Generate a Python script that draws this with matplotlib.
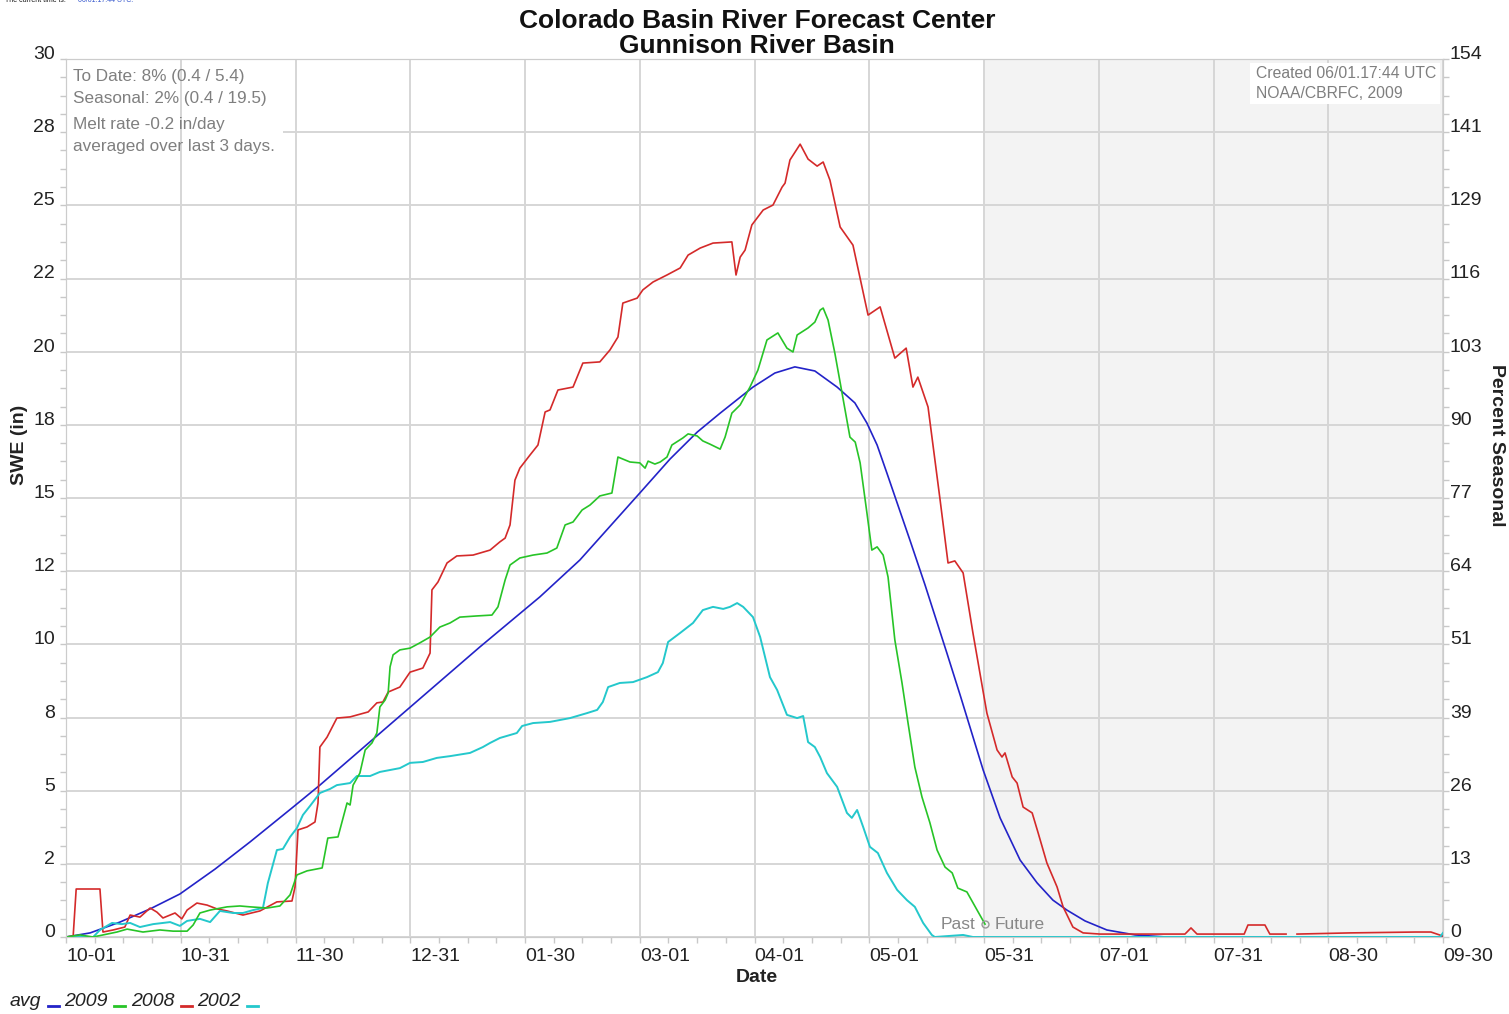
import numpy as np
import matplotlib
matplotlib.use('Agg')
import matplotlib.pyplot as plt
from matplotlib.lines import Line2D
from matplotlib.patches import Rectangle
from matplotlib.transforms import ScaledTranslation

plt.rcParams['font.family'] = ['Liberation Sans', 'DejaVu Sans']

# day of water year (0 = 10-01) and SWE in inches
avg_day = [0.0, 6.4, 14.3, 22.3, 30.2, 39.5, 48.8, 60.2, 67.3, 88.5, 109.7, 125.6, 136.2, 152.1,
           160.1, 167.3, 173.4, 182.1, 187.9, 193.2, 198.5, 204.4, 209.1, 212.3, 215.0, 217.6,
           220.5, 223.7, 227.7, 233.5, 237.0, 243.1, 247.6, 252.9, 257.4, 261.6, 265.3, 270.1,
           275.9, 283.4, 291.6, 365.0]
avg_swe = [0.00, 0.14, 0.51, 0.96, 1.47, 2.32, 3.25, 4.44, 5.19, 7.55, 9.91, 11.62, 12.88, 15.17,
           16.33, 17.25, 17.90, 18.79, 19.27, 19.48, 19.34, 18.79, 18.25, 17.56, 16.81, 15.85,
           14.76, 13.56, 12.03, 9.70, 8.27, 5.71, 4.07, 2.63, 1.85, 1.26, 0.92, 0.55,
           0.24, 0.07, 0.0, 0.0]

# 2009 (current year, ends today)
wy2009_day = [0.0, 3.7, 7.2, 9.8, 13.5, 16.2, 20.4, 24.9, 28.4, 32.1, 33.7, 35.5, 38.2, 42.7, 46.1,
              48.8, 53.3, 56.7, 59.4, 61.2, 63.9, 67.9, 69.4, 72.1, 74.5, 75.3, 76.1, 77.9, 79.3,
              81.1, 82.4, 83.2, 84.6, 85.4, 85.9, 86.7, 88.5, 91.2, 93.8, 96.5, 99.1, 101.8, 104.4,
              108.9, 112.9, 114.5, 116.4, 117.7, 120.3, 123.8, 127.5, 130.1, 132.3, 134.4, 136.8,
              138.9, 141.5, 144.7, 146.3, 149.5, 152.1, 153.5, 154.3, 156.1, 157.5, 159.3, 160.6,
              163.5, 164.9, 167.3, 168.8, 170.7, 173.4, 174.7, 176.5, 178.7, 181.3, 183.4, 185.8,
              188.7, 191.1, 192.7, 193.8, 196.7, 198.5, 199.9, 200.7, 202.0, 203.8, 205.7, 207.8,
              209.2, 210.5, 212.3, 213.6, 215.0, 216.6, 217.9, 219.7, 221.6, 223.2, 225.0, 226.9,
              229.0, 230.9, 233.0, 234.9, 236.4, 238.8, 241.5, 243.6]
wy2009_swe = [0.00, 0.07, 0.00, 0.07, 0.17, 0.27, 0.17, 0.24, 0.20, 0.20, 0.41, 0.82, 0.92, 1.03, 1.06,
              1.03, 0.99, 1.06, 1.44, 2.12, 2.26, 2.36, 3.38, 3.42, 4.58, 4.51, 5.19, 5.60, 6.39,
              6.63, 6.97, 7.86, 8.10, 8.34, 9.23, 9.64, 9.81, 9.87, 10.05, 10.25, 10.59, 10.73, 10.93,
              10.97, 11.00, 11.28, 12.20, 12.71, 12.95, 13.05, 13.12, 13.29, 14.08, 14.18, 14.59,
              14.76, 15.07, 15.17, 16.40, 16.23, 16.20, 16.02, 16.26, 16.16, 16.23, 16.40, 16.81,
              17.05, 17.19, 17.12, 16.95, 16.84, 16.67, 17.08, 17.90, 18.18, 18.79, 19.37, 20.40,
              20.64, 20.12, 19.99, 20.57, 20.81, 21.01, 21.42, 21.49, 21.08, 19.95, 18.59, 17.08,
              16.91, 16.20, 14.49, 13.22, 13.33, 13.05, 12.30, 10.15, 8.68, 7.31, 5.81, 4.78,
              3.90, 2.97, 2.39, 2.19, 1.67, 1.54, 0.92, 0.44]

# 2008
wy2008_day = [0.0, 1.9, 2.7, 9.0, 9.8, 12.5, 15.6, 17.0, 19.6, 22.3, 24.1, 25.7, 28.9, 30.7, 32.1,
              34.7, 37.4, 40.0, 42.7, 46.9, 51.4, 55.9, 59.9, 60.7, 61.5, 63.9, 66.0, 66.8, 67.3,
              69.2, 71.8, 75.3, 80.1, 82.4, 84.0, 85.4, 88.5, 91.2, 94.6, 96.5, 97.0, 98.6, 101.0,
              103.6, 107.9, 112.4, 115.0, 116.4, 117.7, 119.0, 120.3, 123.0, 125.1, 127.0, 128.3,
              130.4, 134.4, 137.0, 141.5, 144.2, 146.3, 147.6, 151.4, 152.9, 155.6, 159.3, 162.8,
              164.9, 168.1, 171.5, 176.5, 177.6, 178.7, 180.0, 181.8, 184.8, 187.4, 189.8, 190.6,
              191.9, 194.6, 196.7, 199.1, 200.7, 202.5, 205.2, 208.6, 212.6, 215.8, 219.7, 222.7,
              224.5, 225.8, 228.5, 231.7, 233.8, 235.6, 237.8, 240.4, 244.1, 246.8, 248.1, 248.9,
              250.8, 252.1, 253.7, 256.1, 257.7, 260.0, 262.7, 264.3, 266.9, 269.6, 274.1, 296.6,
              298.2, 299.8, 312.3, 313.3, 317.8, 319.1, 323.4, 324.7, 326.3, 340.3, 357.8, 361.8,
              365.0]
wy2008_swe = [0.00, 0.03, 1.64, 1.64, 0.17, 0.24, 0.34, 0.75, 0.68, 0.99, 0.85, 0.65, 0.82, 0.62, 0.92,
              1.16, 1.09, 0.96, 0.89, 0.75, 0.89, 1.20, 1.23, 1.71, 3.66, 3.76, 3.93, 4.58, 6.49,
              6.83, 7.48, 7.52, 7.69, 8.00, 8.03, 8.37, 8.54, 9.05, 9.19, 9.70, 11.86, 12.13, 12.78,
              13.02, 13.05, 13.22, 13.50, 13.63, 14.08, 15.61, 16.02, 16.47, 16.81, 17.94, 18.01,
              18.69, 18.79, 19.61, 19.65, 20.06, 20.50, 21.66, 21.83, 22.11, 22.38, 22.62, 22.86,
              23.30, 23.54, 23.71, 23.75, 22.62, 23.23, 23.47, 24.33, 24.84, 25.01, 25.62, 25.76,
              26.55, 27.09, 26.58, 26.34, 26.48, 25.86, 24.26, 23.64, 21.25, 21.53, 19.78, 20.12,
              18.79, 19.13, 18.11, 14.93, 12.78, 12.85, 12.44, 10.39, 7.65, 6.39, 6.15, 6.29,
              5.47, 5.26, 4.44, 4.24, 3.55, 2.53, 1.71, 1.03, 0.34, 0.14, 0.10, 0.10,
              0.31, 0.10, 0.10, 0.41, 0.41, 0.10, 0.10, np.nan, 0.10, 0.14, 0.17, 0.17,
              0.03]

# 2002
wy2002_day = [0.0, 7.2, 9.0, 12.2, 14.8, 17.0, 19.6, 23.1, 25.7, 27.6, 30.2, 32.1, 35.5, 38.2, 40.8,
              44.3, 46.9, 49.6, 52.2, 53.5, 55.9, 57.5, 59.4, 61.2, 62.8, 64.7, 67.3, 70.0, 71.8,
              75.3, 77.1, 80.6, 83.2, 88.5, 91.2, 94.6, 98.3, 101.8, 107.1, 110.5, 112.4, 115.0,
              119.5, 120.9, 123.8, 128.3, 133.6, 138.1, 140.8, 142.3, 143.7, 146.8, 150.3, 154.0,
              156.9, 158.2, 159.6, 162.8, 166.2, 168.8, 171.5, 174.2, 176.0, 177.9, 179.5, 182.1,
              184.0, 186.6, 188.5, 191.1, 193.8, 195.4, 196.7, 198.5, 199.9, 201.7, 204.4, 207.0,
              208.3, 209.7, 211.3, 213.1, 215.2, 217.6, 220.3, 222.9, 225.0, 227.2, 229.5, 230.3,
              237.8, 240.4, 364.2, 365.0]
wy2002_swe = [0.00, 0.00, 0.24, 0.48, 0.44, 0.48, 0.34, 0.44, 0.48, 0.51, 0.38, 0.55, 0.62, 0.51, 0.89,
              0.82, 0.82, 0.92, 0.99, 1.84, 2.97, 3.01, 3.42, 3.72, 4.17, 4.48, 4.92, 5.06, 5.19,
              5.26, 5.50, 5.50, 5.64, 5.77, 5.95, 5.98, 6.12, 6.18, 6.29, 6.49, 6.63, 6.80,
              6.97, 7.21, 7.31, 7.35, 7.48, 7.65, 7.76, 8.03, 8.54, 8.68, 8.71, 8.88,
              9.05, 9.36, 10.08, 10.39, 10.73, 11.17, 11.28, 11.21, 11.28, 11.41, 11.28, 10.93,
              10.25, 8.88, 8.44, 7.59, 7.48, 7.55, 6.66, 6.49, 6.15, 5.60, 5.13, 4.24,
              4.07, 4.34, 3.76, 3.08, 2.87, 2.19, 1.61, 1.26, 1.03, 0.48, 0.07, 0.00,
              0.07, 0.00, 0.00, 0.14]

today = 243.6
x_labels = ['10-01', '10-31', '11-30', '12-31', '01-30', '03-01', '04-01', '05-01',
            '05-31', '07-01', '07-31', '08-30', '09-30']
pct_labels = ['0', '13', '26', '39', '51', '64', '77', '90', '103', '116', '129', '141', '154']
stats_lines = ['To Date: 8% (0.4 / 5.4)', 'Seasonal: 2% (0.4 / 19.5)',
               'Melt rate -0.2 in/day', 'averaged over last 3 days.']
created_lines = ['Created 06/01.17:44 UTC', 'NOAA/CBRFC, 2009']

W, H = 1509, 1014
fig = plt.figure(figsize=(W / 100, H / 100), dpi=100)
ax = fig.add_axes([66 / W, (H - 937) / H, (1443 - 66) / W, (937 - 59) / H])


def fx(px):
    return px / W


def fy(py):
    return 1 - py / H


grid_c = '#d6d6d6'
txt_c = '#222222'
gray = '#7f7f7f'
ax.set_xlim(0, 365)
ax.set_ylim(0, 30)

xt = np.arange(13) * 365 / 12
yt = np.arange(13) * 2.5

ax.axvspan(today, 365, color='#f3f3f3', zorder=0)
for v in yt:
    ax.axhline(v, color=grid_c, lw=1.4, zorder=0.5)
for v in xt:
    ax.axvline(v, color=grid_c, lw=1.4, zorder=4)

ax.plot(avg_day, avg_swe, color='#2323c8', lw=1.2, zorder=5)
ax.plot(wy2008_day, wy2008_swe, color='#d42a2a', lw=1.2, zorder=5)
ax.plot(wy2002_day, wy2002_swe, color='#24c8cc', lw=1.4, zorder=5)
ax.plot(wy2009_day, wy2009_swe, color='#27c427', lw=1.2, zorder=6)

ax.set_xticks(xt)
ax.set_xticklabels(x_labels, ha='left')
ax.set_xticks(np.arange(49) * 365 / 48, minor=True)
ax.set_yticks(yt)
ax.set_yticklabels([str(round(v)) for v in yt])
ax.set_yticks(np.arange(49) * 0.625, minor=True)
ax.tick_params(which='both', color='#c8c8c8', length=4, width=1, labelcolor=txt_c, labelsize=14)
ax.tick_params(axis='x', pad=4)
ax.tick_params(axis='y', pad=4)
for lab in ax.get_yticklabels():
    lab.set_verticalalignment('baseline')
for s in ax.spines.values():
    s.set_color('#cccccc')

ax2 = ax.twinx()
ax2.set_ylim(0, 30)
ax2.set_yticks(yt)
ax2.set_yticklabels(pct_labels)
ax2.set_yticks(np.arange(49) * 0.625, minor=True)
ax2.tick_params(which='both', color='#c8c8c8', length=4, width=1, labelcolor=txt_c, labelsize=14, pad=1)
for lab in ax2.get_yticklabels():
    lab.set_verticalalignment('baseline')
for s in ax2.spines.values():
    s.set_color('#cccccc')

# stats box (top left): white patch hides only the horizontal grid, vertical grid stays on top
ax.add_patch(Rectangle((fx(67), fy(157)), fx(283) - fx(67), fy(60) - fy(157),
                       transform=fig.transFigure, facecolor='white', edgecolor='none', zorder=1))
for ln, py in zip(stats_lines, [77, 98, 125, 146]):
    fig.text(fx(73), fy(py), ln, ha='left', va='center', fontsize=12.3, color=gray, zorder=6)

# created box (top right)
ax.add_patch(Rectangle((fx(1250), fy(104)), fx(1440) - fx(1250), fy(63) - fy(104),
                       transform=fig.transFigure, facecolor='white', edgecolor='none', zorder=4.5))
for ln, py in zip(created_lines, [74, 94]):
    fig.text(fx(1256), fy(py), ln, ha='left', va='center', fontsize=11.3, color=gray, zorder=6)

# past / future marker
ax.plot([today], [wy2009_swe[-1]], marker='o', ms=5, mfc='none', mec='#999999', mew=1, zorder=7)
off = ScaledTranslation(-10 / 100, 0, fig.dpi_scale_trans)
ax.text(today, wy2009_swe[-1], 'Past', ha='right', va='center', fontsize=12.5, color='#888888',
        transform=ax.transData + off, zorder=7)
off2 = ScaledTranslation(10 / 100, 0, fig.dpi_scale_trans)
ax.text(today, wy2009_swe[-1], 'Future', ha='left', va='center', fontsize=12.5, color='#888888',
        transform=ax.transData + off2, zorder=7)

# titles and axis labels
fig.text(fx(757), fy(21), 'Colorado Basin River Forecast Center', ha='center', va='center',
         fontsize=19, fontweight='bold', color='#111111')
fig.text(fx(757), fy(46), 'Gunnison River Basin', ha='center', va='center',
         fontsize=19, fontweight='bold', color='#111111')
fig.text(fx(757), fy(977), 'Date', ha='center', va='center', fontsize=14, fontweight='bold', color=txt_c)
fig.text(fx(20), fy(445), 'SWE (in)', ha='center', va='center', rotation=90,
         fontsize=14, fontweight='bold', color=txt_c)
fig.text(fx(1497), fy(445), 'Percent Seasonal', ha='center', va='center', rotation=-90,
         fontsize=14, fontweight='bold', color=txt_c)

fig.text(fx(5), fy(1), 'The current time is:', ha='left', va='center', fontsize=5, color='#111111')
fig.text(fx(78), fy(1), '06/01.17:44 UTC.', ha='left', va='center', fontsize=5, color='#3355cc')

# legend strip at the bottom
leg_items = [('avg', '#2323c8'), ('2009', '#27c427'), ('2008', '#d42a2a'), ('2002', '#24c8cc')]
x0 = 10
for lab, col in leg_items:
    t = fig.text(fx(x0), fy(1001), lab, ha='left', va='center', fontsize=14, style='italic', color=txt_c)
    fig.canvas.draw()
    bb = t.get_window_extent()
    xe = bb.x1 + 6
    fig.add_artist(Line2D([fx(xe), fx(xe + 11)], [fy(1006), fy(1006)], color=col, lw=2,
                          transform=fig.transFigure))
    x0 = xe + 17

fig.savefig('out.png', dpi=100)
